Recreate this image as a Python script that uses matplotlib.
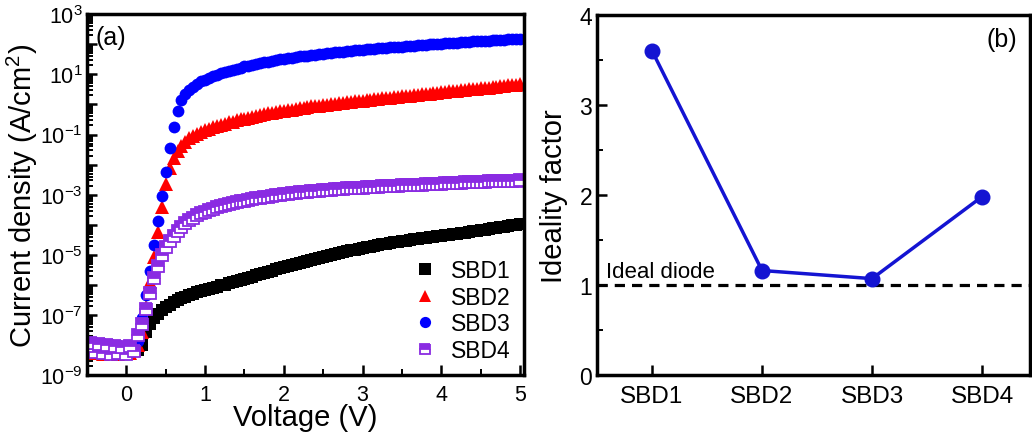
import numpy as np
import matplotlib
matplotlib.use("Agg")
import matplotlib.pyplot as plt
from matplotlib.ticker import LogLocator, FixedLocator, MultipleLocator, FuncFormatter, NullFormatter

plt.rcParams['font.family'] = ['Liberation Sans', 'DejaVu Sans']
plt.rcParams['mathtext.fontset'] = 'custom'
plt.rcParams['mathtext.rm'] = 'Liberation Sans'
plt.rcParams['mathtext.it'] = 'Liberation Sans:italic'
plt.rcParams['mathtext.bf'] = 'Liberation Sans:bold'

# voltage sweep, -0.5 V to 5 V in 0.05 V steps
v_start, v_stop, v_step = -0.5, 5.0, 0.05

# log10 of current density (A/cm2) at every sweep point
logJ_sbd1 = [
    -8.25, -8.20, -8.30, -8.22, -8.28, -8.20, -8.30, -8.24, -8.28, -8.22,
    -8.30, -8.25, -8.20, -8.15, -8.00,
    -7.57, -7.29, -7.10, -6.95, -6.84, -6.74, -6.65, -6.57, -6.50, -6.44,
    -6.38, -6.33, -6.28, -6.24, -6.20, -6.16,
    -6.12, -6.09, -6.05, -6.01, -5.98, -5.94, -5.91, -5.87, -5.83, -5.80,
    -5.76, -5.72, -5.68, -5.64, -5.60, -5.56, -5.52, -5.48, -5.44, -5.40,
    -5.37, -5.33, -5.30, -5.26, -5.23, -5.19, -5.16, -5.12, -5.09, -5.06,
    -5.03, -5.00, -4.97, -4.94, -4.91, -4.88, -4.85, -4.82, -4.80, -4.77,
    -4.74, -4.72, -4.69, -4.67, -4.65, -4.62, -4.60, -4.58, -4.56, -4.54,
    -4.52, -4.50, -4.48, -4.46, -4.45, -4.43, -4.41, -4.39, -4.38, -4.36,
    -4.34, -4.33, -4.31, -4.29, -4.27, -4.26, -4.24, -4.22, -4.20, -4.18,
    -4.16, -4.14, -4.12, -4.10, -4.08, -4.06, -4.04, -4.02, -4.00, -3.98,
]
logJ_sbd2 = [
    -8.20, -8.15, -8.25, -8.20, -8.30, -8.20, -8.25, -8.20, -8.30, -8.25,
    -8.20, -8.25, -8.15, -8.00,
    -7.55, -6.74, -5.89, -5.08, -4.25, -3.42, -2.64, -2.10, -1.78, -1.55,
    -1.38, -1.24, -1.13, -1.04, -0.97, -0.91, -0.86,
    -0.81, -0.76, -0.72, -0.68, -0.64, -0.60, -0.57, -0.53, -0.50, -0.47,
    -0.44, -0.41, -0.38, -0.35, -0.33, -0.30, -0.28, -0.25, -0.23, -0.21,
    -0.19, -0.17, -0.15, -0.13, -0.11, -0.09, -0.07, -0.06, -0.04, -0.03,
    -0.01, 0.01, 0.02, 0.04, 0.05, 0.07, 0.08, 0.10, 0.11, 0.12,
    0.14, 0.15, 0.17, 0.18, 0.20, 0.21, 0.22, 0.24, 0.25, 0.27,
    0.28, 0.29, 0.31, 0.32, 0.34, 0.35, 0.36, 0.38, 0.39, 0.40,
    0.42, 0.43, 0.44, 0.46, 0.47, 0.48, 0.50, 0.51, 0.52, 0.54,
    0.55, 0.56, 0.58, 0.59, 0.60, 0.62, 0.63, 0.64, 0.66, 0.67,
]
logJ_sbd3 = [
    -8.10, -8.05, -8.15, -8.10, -8.20, -8.10, -8.15, -8.10, -8.20, -8.15,
    -8.10, -8.15, -8.05, -7.85,
    -7.10, -6.33, -5.52, -4.67, -3.86, -3.05, -2.23, -1.46, -0.74, -0.21,
    0.16, 0.35, 0.48, 0.59, 0.68, 0.76, 0.82,
    0.88, 0.93, 0.98, 1.03, 1.07, 1.11, 1.15, 1.19, 1.22, 1.26,
    1.29, 1.32, 1.35, 1.37, 1.40, 1.42, 1.45, 1.47, 1.49, 1.51,
    1.53, 1.55, 1.57, 1.59, 1.60, 1.62, 1.64, 1.65, 1.67, 1.68,
    1.70, 1.71, 1.73, 1.74, 1.75, 1.77, 1.78, 1.79, 1.80, 1.82,
    1.83, 1.84, 1.85, 1.86, 1.87, 1.88, 1.89, 1.90, 1.91, 1.92,
    1.93, 1.94, 1.95, 1.96, 1.97, 1.98, 1.99, 2.00, 2.01, 2.02,
    2.03, 2.04, 2.05, 2.05, 2.06, 2.07, 2.08, 2.09, 2.10, 2.10,
    2.11, 2.12, 2.13, 2.14, 2.14, 2.15, 2.16, 2.17, 2.17, 2.18,
]
logJ_sbd4 = [
    -8.12, -7.92, -8.23, -7.95, -8.26, -7.99, -8.29, -8.02, -8.24, -8.06,
    -8.28, -8.01, -8.18, -7.65,
    -7.30, -6.80, -6.25, -5.75, -5.35, -5.00, -4.75, -4.55, -4.38, -4.22,
    -4.08, -3.95, -3.85, -3.76, -3.68, -3.61, -3.56,
    -3.51, -3.46, -3.42, -3.38, -3.35, -3.31, -3.28, -3.25, -3.22, -3.20,
    -3.17, -3.15, -3.12, -3.10, -3.08, -3.06, -3.04, -3.02, -3.00, -2.98,
    -2.97, -2.95, -2.94, -2.92, -2.91, -2.90, -2.88, -2.87, -2.86, -2.85,
    -2.84, -2.83, -2.82, -2.81, -2.80, -2.79, -2.78, -2.78, -2.77, -2.76,
    -2.75, -2.75, -2.74, -2.73, -2.72, -2.72, -2.71, -2.70, -2.70, -2.69,
    -2.68, -2.68, -2.67, -2.66, -2.66, -2.65, -2.65, -2.64, -2.63, -2.63,
    -2.62, -2.62, -2.61, -2.60, -2.60, -2.59, -2.59, -2.58, -2.58, -2.57,
    -2.57, -2.56, -2.56, -2.55, -2.55, -2.54, -2.54, -2.53, -2.53, -2.52,
]

# ideality factor per device
devices = ['SBD1', 'SBD2', 'SBD3', 'SBD4']
ideality = [3.60, 1.16, 1.07, 1.98]
ideal_n = 1.0

voltage = np.round(np.arange(v_start, v_stop + v_step / 2, v_step), 2)

fig = plt.figure(figsize=(10.32, 4.39), dpi=100)
ax1 = fig.add_axes([0.0843, 0.1424, 0.4235, 0.8234])
ax2 = fig.add_axes([0.5785, 0.1435, 0.4200, 0.8207])

# ---- (a) J-V curves ----
styles = [
    ('SBD1', logJ_sbd1, dict(marker='s', color='black', ms=8.5)),
    ('SBD2', logJ_sbd2, dict(marker='^', color='#ff0000', ms=9.5)),
    ('SBD3', logJ_sbd3, dict(marker='o', color='#0000ff', ms=8.5)),
    ('SBD4', logJ_sbd4, dict(marker='s', color='#8a2be2', ms=8,
                             fillstyle='top', markerfacecoloralt='white',
                             markeredgewidth=1.3)),
]
for name, logj, st in styles:
    j = 10.0 ** np.array(logj)
    kw = dict(st)
    col = kw.pop('color')
    mew = kw.pop('markeredgewidth', 0)
    ax1.plot(voltage, j, linestyle='none', label=name,
             markerfacecolor=col, markeredgecolor=col, markeredgewidth=mew, **kw)

ax1.set_yscale('log')
ax1.set_xlim(-0.5, 5.05)
ax1.set_ylim(1e-9, 1e3)
ax1.xaxis.set_major_locator(MultipleLocator(1))
ax1.xaxis.set_minor_locator(MultipleLocator(0.5))
ax1.yaxis.set_major_locator(LogLocator(base=10, numticks=20))
ax1.yaxis.set_minor_locator(LogLocator(base=10, subs=np.arange(2, 10), numticks=20))
ax1.yaxis.set_minor_formatter(NullFormatter())


def decade_label(val, pos):
    e = int(round(np.log10(val)))
    if e % 2 == 0:
        return ''
    return r'$10^{%d}$' % e


ax1.yaxis.set_major_formatter(FuncFormatter(decade_label))
ax1.tick_params(axis='both', which='major', direction='in', length=7, width=1.8,
                labelsize=15.5, top=False, right=False)
ax1.tick_params(axis='both', which='minor', direction='in', length=4, width=1.4,
                top=False, right=False)
ax1.tick_params(axis='y', which='major', pad=3, labelsize=15.5)
ax1.tick_params(axis='x', which='major', pad=6)
ax1.set_xlabel('Voltage (V)', fontsize=21, labelpad=-1)
ax1.set_ylabel('Current density (A/cm$^2$)', fontsize=21, labelpad=0)
ax1.text(0.02, 0.97, '(a)', transform=ax1.transAxes, fontsize=18,
         ha='left', va='top')
leg = ax1.legend(loc='lower right', frameon=False, fontsize=16.5,
                 handletextpad=0.5, labelspacing=0.15, borderaxespad=0.2,
                 handlelength=1.2, markerscale=0.95)

# ---- (b) ideality factor ----
pos = np.arange(1, len(devices) + 1)
ax2.axhline(ideal_n, color='black', linestyle=(0, (3.2, 2.2)), linewidth=2.3, zorder=2)
ax2.plot(pos, ideality, color='#1414d2', linewidth=2.5, marker='o', markersize=10.5,
         zorder=3)
ax2.text(0.58, ideal_n + 0.035, 'Ideal diode', fontsize=16, ha='left', va='bottom')
ax2.text(0.97, 0.965, '(b)', transform=ax2.transAxes, fontsize=18,
         ha='right', va='top')
ax2.set_xlim(0.5, 4.44)
ax2.set_ylim(0, 4)
ax2.xaxis.set_major_locator(FixedLocator(pos))
ax2.set_xticklabels(devices)
ax2.yaxis.set_major_locator(MultipleLocator(1))
ax2.yaxis.set_minor_locator(MultipleLocator(0.5))
ax2.tick_params(axis='both', which='major', direction='in', length=7, width=1.8,
                labelsize=17.5, top=False, right=False)
ax2.tick_params(axis='y', which='major', labelsize=16.5)
ax2.tick_params(axis='y', which='minor', direction='in', length=4, width=1.4,
                right=False)
ax2.tick_params(axis='x', which='major', pad=7)
ax2.set_ylabel('Ideality factor', fontsize=21, labelpad=8)

for ax in (ax1, ax2):
    for sp in ax.spines.values():
        sp.set_linewidth(2.5)

fig.savefig('out.png', dpi=100)
